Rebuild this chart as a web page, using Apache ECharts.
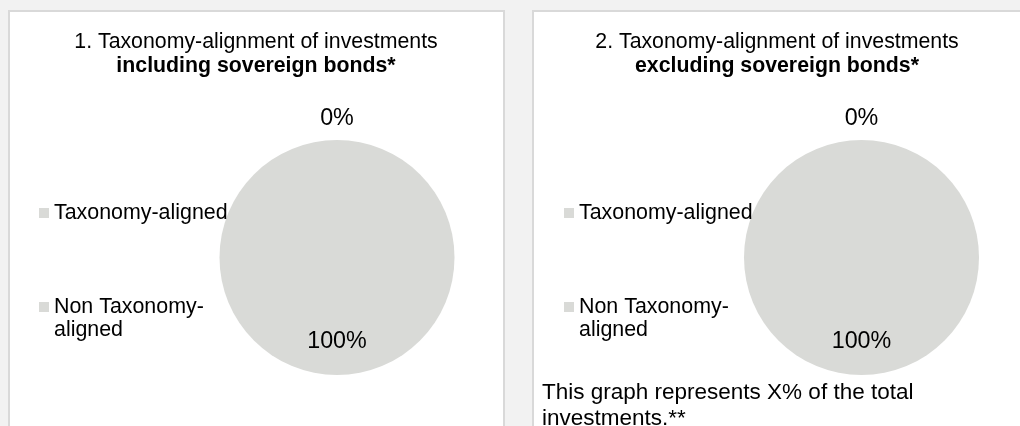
<!DOCTYPE html>
<html>
<head>
<meta charset="utf-8">
<script src="https://cdn.jsdelivr.net/npm/echarts@6/dist/echarts.min.js"></script>
<style>
html,body{margin:0;padding:0;background:#f2f2f2;}
#chart{width:1020px;height:426px;}
</style>
</head>
<body>
<div id="chart"></div>
<script>
// ---- data ----
const categories = ['Taxonomy-aligned', 'Non Taxonomy-aligned'];
const valuesIncl = [0, 100];
const valuesExcl = [0, 100];
const titleLine1 = ['1. Taxonomy-alignment of investments', '2. Taxonomy-alignment of investments'];
const titleLine2 = ['including sovereign bonds*', 'excluding sovereign bonds*'];
const footnote = ['This graph represents X% of the total', 'investments.**'];

// ---- styling ----
const FONT = "'Liberation Sans', Arial, sans-serif";
const GREY = '#d9dad7';
const chart = echarts.init(document.getElementById('chart'));

function legendWrap(name) {
  if (name.length > 17) {
    const i = name.indexOf('-');
    return '\n' + name.slice(0, i + 1) + '\n' + name.slice(i + 1);
  }
  return name;
}

function makeData(vals) {
  return categories.map((c, i) => ({
    name: c,
    value: vals[i],
    label: { offset: i === 0 ? [0, -77] : [0, 22] }
  }));
}

function pieSeries(name, vals, cx) {
  return {
    type: 'pie',
    name: name,
    center: [cx, 257.5],
    radius: [0, 117.5],
    startAngle: 90,
    clockwise: true,
    silent: true,
    animation: false,
    avoidLabelOverlap: false,
    minShowLabelAngle: 0,
    stillShowZeroSum: true,
    color: [GREY, GREY],
    itemStyle: { borderWidth: 0 },
    label: {
      show: true,
      position: 'inside',
      formatter: p => p.percent.toFixed(0) + '%',
      fontFamily: FONT,
      fontSize: 23.3,
      color: '#000'
    },
    labelLine: { show: false },
    emphasis: { disabled: true },
    data: makeData(vals)
  };
}

function legend(left) {
  return {
    orient: 'vertical',
    left: left,
    top: 201.5,
    padding: 0,
    itemGap: 48,
    itemWidth: 10,
    itemHeight: 10,
    icon: 'rect',
    selectedMode: false,
    data: categories,
    formatter: legendWrap,
    textStyle: { fontFamily: FONT, fontSize: 21.4, lineHeight: 23, color: '#000' }
  };
}

function title(i, x) {
  return {
    text: '{a|' + titleLine1[i] + '}\n{b|' + titleLine2[i] + '}',
    left: x,
    top: 30,
    textAlign: 'center',
    padding: 0,
    textStyle: {
      fontWeight: 'normal',
      rich: {
        a: { fontFamily: FONT, fontSize: 21.3, lineHeight: 24, fontWeight: 'normal', color: '#000', align: 'center' },
        b: { fontFamily: FONT, fontSize: 21.3, lineHeight: 24, fontWeight: 'bold', color: '#000', align: 'center' }
      }
    }
  };
}

chart.setOption({
  backgroundColor: '#f2f2f2',
  animation: false,
  graphic: [
    { type: 'rect', z: -10, silent: true, shape: { x: 9, y: 11, width: 495, height: 440 },
      style: { fill: '#ffffff', stroke: '#d9d9d9', lineWidth: 2 } },
    { type: 'rect', z: -10, silent: true, shape: { x: 533, y: 11, width: 500, height: 440 },
      style: { fill: '#ffffff', stroke: '#d9d9d9', lineWidth: 2 } }
  ],
  title: [
    title(0, 256),
    title(1, 777),
    {
      text: footnote.join('\n'),
      left: 542,
      top: 380,
      padding: 0,
      textStyle: { fontFamily: FONT, fontSize: 22.5, lineHeight: 26, fontWeight: 'normal', color: '#000' }
    }
  ],
  legend: [
    legend(39),
    legend(564)
  ],
  series: [
    pieSeries('incl', valuesIncl, 337),
    pieSeries('excl', valuesExcl, 861.5)
  ]
});
</script>
</body>
</html>
